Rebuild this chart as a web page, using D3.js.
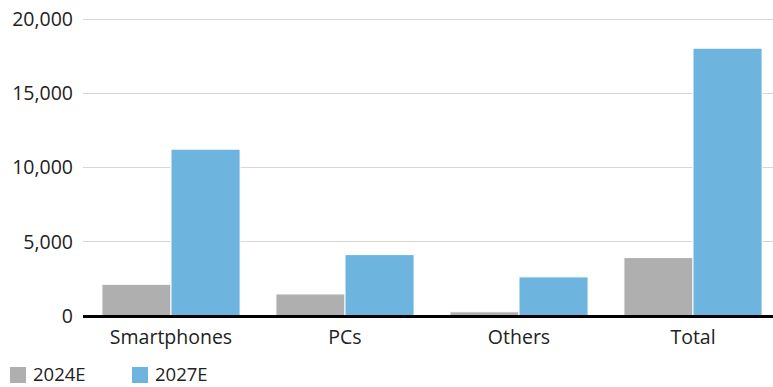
<!DOCTYPE html>
<html><head><meta charset="utf-8">
<script src="https://cdn.jsdelivr.net/npm/d3@7"></script>
<style>body{margin:0;background:#fff}svg{display:block}</style>
</head><body>
<svg id="c" width="773" height="387"></svg>
<script>
const categories = ["Smartphones", "PCs", "Others", "Total"];
const seriesNames = ["2024E", "2027E"];
const values2024E = [2100, 1450, 250, 3900];
const values2027E = [11200, 4100, 2600, 18000];
const yTicks = [0, 5000, 10000, 15000, 20000];
const colors = ["#afafaf", "#6db4df"];

const svg = d3.select("#c");
const left = 84, plotRight = 773, bandRight = 780;
const y = d3.scaleLinear().domain([0, 20000]).range([315.5, 18.5]);
const x0 = d3.scaleBand().domain(categories).range([left, bandRight]);
const bw = x0.bandwidth();
const x1 = d3.scaleBand().domain(seriesNames).range([bw * 0.103, bw * 0.897]);
const font = "'Open Sans', 'Noto Sans', sans-serif";
const fs = 19.5;

// gridlines
svg.append("g").selectAll("line").data(yTicks.filter(d => d > 0)).join("line")
  .attr("x1", left - 1).attr("x2", plotRight)
  .attr("y1", d => Math.round(y(d)) + 0.5).attr("y2", d => Math.round(y(d)) + 0.5)
  .attr("stroke", "#d8d8d0").attr("stroke-width", 1);

// y axis labels
const yAxis = d3.axisLeft(y).tickValues(yTicks).tickSize(0).tickPadding(0)
  .tickFormat(d3.format(","));
const ya = svg.append("g").attr("transform", `translate(${left - 11},0)`).call(yAxis);
ya.select(".domain").remove();
ya.selectAll("text").attr("font-family", font).attr("font-size", fs)
  .attr("fill", "#222").attr("dy", "0.35em");

// bars
const data = categories.map((c, i) => ({cat: c, vals: [values2024E[i], values2027E[i]]}));
const g = svg.append("g");
g.selectAll("g").data(data).join("g")
  .attr("transform", d => `translate(${x0(d.cat)},0)`)
  .selectAll("rect").data(d => d.vals.map((v, j) => ({s: seriesNames[j], v, j})))
  .join("rect")
  .attr("x", d => x1(d.s)).attr("width", x1.bandwidth())
  .attr("y", d => y(d.v)).attr("height", d => y(0) - y(d.v))
  .attr("fill", d => colors[d.j]).attr("stroke", "#fff").attr("stroke-width", 1);

// baseline
svg.append("line").attr("x1", left - 1).attr("x2", plotRight)
  .attr("y1", y(0) + 1).attr("y2", y(0) + 1).attr("stroke", "#000").attr("stroke-width", 3);

// x axis labels
const xAxis = d3.axisBottom(x0).tickSize(0).tickPadding(0);
const xa = svg.append("g").attr("transform", `translate(0,${y(0)})`).call(xAxis);
xa.select(".domain").remove();
xa.selectAll("text").attr("font-family", font).attr("font-size", fs)
  .attr("fill", "#222").attr("y", 22).attr("dy", "0.35em");

// legend
const legX = [10, 132];
const leg = svg.append("g").selectAll("g").data(seriesNames).join("g")
  .attr("transform", (d, i) => `translate(${legX[i]},367)`);
leg.append("rect").attr("width", 16).attr("height", 16).attr("fill", (d, i) => colors[i]);
leg.append("text").attr("x", 23).attr("y", 8).attr("dy", "0.35em")
  .attr("font-family", font).attr("font-size", 18.5).attr("fill", "#222").text(d => d);
</script>
</body></html>
